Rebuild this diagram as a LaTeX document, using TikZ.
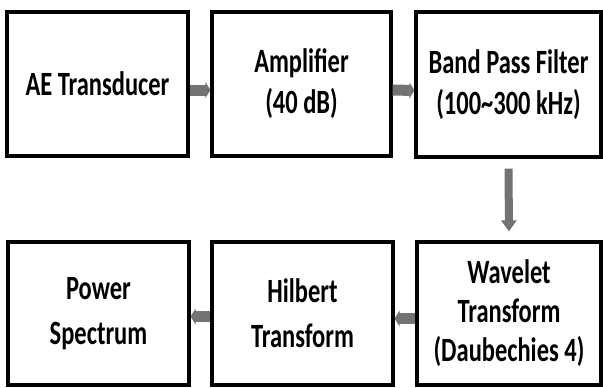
\documentclass[tikz,border=0pt]{standalone}
\usepackage{fontspec}
\newfontfamily\boxfont{Carlito}[FakeStretch=0.72]
\usetikzlibrary{arrows.meta}
\begin{document}
\begin{tikzpicture}[x=1pt,y=-1pt,
  box/.style={draw=black, line width=3.2pt, fill=white, align=center,
    inner sep=0pt, font=\boxfont\bfseries\fontsize{34}{41}\selectfont},
  widebox/.style={box, font=\boxfont\bfseries\fontsize{34}{45}\selectfont},
  harrow/.style={draw=black!55, line width=11pt,
    -{Triangle[width=16pt,length=5pt]}},
  varrow/.style={draw=black!55, line width=8pt,
    -{Triangle[width=15pt,length=11pt]}, shorten <=10pt, shorten >=9pt}]
\useasboundingbox (0,0) rectangle (603,388);
\node[box, minimum width=181pt, minimum height=144pt] (b1) at (97.5,84) {AE Transducer};
\node[box, minimum width=179pt, minimum height=144pt] (b2) at (301.5,84) {Amplifier\\(40 dB)};
\node[box, minimum width=185pt, minimum height=145pt] (b3) at (508.5,84.5) {Band Pass Filter\\(100\textasciitilde300 kHz)};
\node[widebox, minimum width=181pt, minimum height=143pt] (b4) at (98.5,313.5) {Power\\Spectrum};
\node[widebox, minimum width=181pt, minimum height=143pt] (b5) at (302.5,313.5) {Hilbert\\Transform};
\node[box, minimum width=184pt, minimum height=143pt, font=\boxfont\bfseries\fontsize{34}{39}\selectfont] (b6) at (509,313.5) {Wavelet\\Transform\\(Daubechies 4)};
\draw[harrow] ([yshift=-6pt]b1.east) -- ([yshift=-6pt]b2.west);
\draw[harrow] ([yshift=-6pt]b2.east) -- ([yshift=-6pt]b3.west);
\draw[varrow] (b3.south) -- (b6.north);
\draw[harrow] ([yshift=-5pt]b6.west) -- ([yshift=-5pt]b5.east);
\draw[harrow] ([yshift=-3pt]b5.west) -- ([yshift=-3pt]b4.east);
\end{tikzpicture}
\end{document}
